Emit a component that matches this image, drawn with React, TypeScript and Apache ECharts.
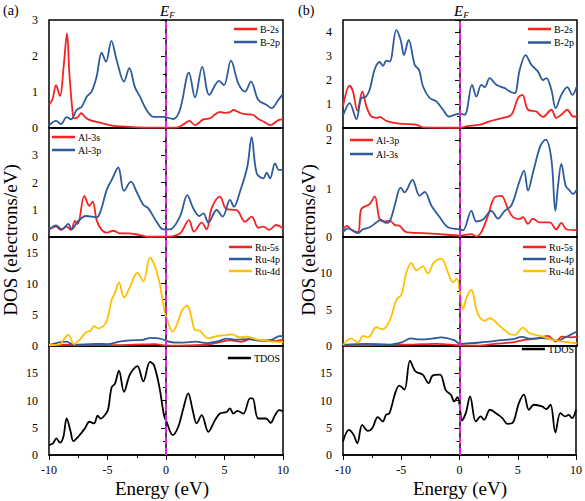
import React, { useEffect, useRef } from "react";
import * as echarts from "echarts";

// ---------- Panel (a) ----------
const aB2sE = [-10,-9.7,-9.4,-9.06,-8.75,-8.46,-8.26,-8.0,-7.85,-7.55,-7.24,-6.9,-6.5,-5.64,-4.5,-3.5,-2.5,-1,0.9,1.5,1.99,2.48,3.19,3.76,4.2,4.61,5.0,5.47,5.75,6.2,6.61,7.0,7.46,7.9,8.32,8.94,9.6,10];
const aB2sY = [0.64,0.8,1.19,0.89,1.7,2.63,1.52,0.5,0.27,0.3,0.41,0.3,0.22,0.15,0.06,0.04,0.02,0.01,0.01,0.1,0.2,0.08,0.24,0.27,0.38,0.45,0.42,0.44,0.5,0.44,0.39,0.38,0.36,0.25,0.18,0.08,0.22,0.24];
const aB2pE = [-10,-9.4,-8.98,-8.49,-8.12,-7.64,-7.21,-6.78,-6.36,-5.93,-5.5,-5.13,-4.67,-4.22,-3.59,-3.14,-2.65,-2.22,-1.66,-1.08,-0.23,0.62,1.19,1.96,2.48,3.1,3.7,4.53,4.95,5.55,6.18,6.75,7.26,7.89,8.6,9.03,9.6,10];
const aB2pY = [0.07,0.2,0.11,0.3,0.24,0.5,0.59,0.87,1.01,1.43,2.09,1.84,2.42,1.89,1.29,1.66,1.13,0.87,0.5,0.31,0.31,0.25,0.5,1.54,0.85,1.7,0.92,1.31,1.19,1.87,1.24,1.01,1.29,0.78,0.64,0.55,0.78,0.94];
const aAl3sE = [-10,-9.4,-8.98,-8.49,-8.12,-7.78,-7.55,-6.98,-6.55,-6.27,-5.93,-5.5,-5.07,-4.5,-3.93,-3.22,-2.22,-1.51,0.05,1.19,1.96,2.39,3.05,3.47,3.9,4.61,5.18,6.04,6.75,7.32,7.89,8.32,8.83,9.4,10];
const aAl3sY = [0.28,0.38,0.26,0.38,0.26,0.59,0.48,1.51,1.14,1.3,0.62,0.26,0.16,0.23,0.13,0.13,0.07,0.01,0.01,0.13,0.62,0.2,0.53,0.28,1.05,1.48,1.02,0.99,0.56,0.75,0.34,0.38,0.26,0.44,0.32];
const aAl3pE = [-10,-9.4,-8.92,-8.35,-8.07,-7.55,-6.84,-5.93,-5.56,-5.07,-4.65,-4.08,-3.59,-3.0,-2.51,-1.94,-1.51,-0.8,-0.23,0.34,1.19,1.82,2.33,2.85,3.19,3.62,4.33,4.84,5.47,5.81,6.32,6.95,7.32,7.75,8.32,8.6,8.89,9.32,9.66,10];
const aAl3pY = [0.26,0.43,0.28,0.48,0.28,0.56,0.77,0.72,0.99,1.73,2.09,2.55,1.69,2.03,1.66,1.18,1.05,0.56,0.28,0.28,0.75,1.54,1.05,0.77,0.87,0.53,0.99,0.75,1.36,1.11,1.66,2.58,3.66,2.34,2.15,2.36,2.15,2.7,2.46,2.46];
const aRu5sE = [-10,-8.5,-7.5,-6,-4,-2,-1,0,1,2,3.5,4.5,5.5,6.5,7.2,8,9,10];
const aRu5sY = [0.05,0.2,0.1,0.15,0.15,0.25,0.3,0.1,0.05,0.1,0.2,0.6,0.9,0.7,1.1,0.85,0.8,1.0];
const aRu4pE = [-10,-8.5,-7.9,-6,-5,-4,-3,-2,-1.3,-0.5,0.5,1.5,2.5,3.5,4.5,5.2,6,7,8,9,9.7,10];
const aRu4pY = [0.15,0.7,0.2,0.35,0.3,0.7,0.9,1.0,1.3,1.2,0.6,0.55,0.7,0.45,0.8,1.2,1.0,1.1,0.9,1.0,1.6,1.6];
const aRu4dE = [-10,-9.06,-8.77,-8.35,-7.87,-7.35,-6.78,-6.47,-6.15,-5.79,-5.13,-4.65,-4.36,-4.02,-3.59,-3.08,-2.45,-1.94,-1.37,-1.03,-0.57,-0.17,0.05,0.57,0.91,1.39,1.82,2.19,2.48,2.9,3.1,3.62,4.33,5.18,5.61,6.32,6.89,7.75,8.6,9.17,10];
const aRu4dY = [0.16,0.27,0.96,1.82,0.32,1.07,2.3,2.4,3.2,2.83,3.74,7.37,8.54,10.2,7.8,9.5,11.75,10.4,14.2,13.24,10.3,6.03,4.43,2.3,3.36,5.77,6.46,4.43,2.56,2.46,2.03,1.23,1.6,1.76,1.87,1.39,1.5,1.07,0.85,0.69,0.64];
const aTdosE = [-10,-9.66,-9.37,-9.06,-8.77,-8.49,-8.15,-7.92,-7.5,-6.93,-6.55,-6.15,-5.84,-5.59,-5.13,-4.93,-4.65,-4.36,-4.02,-3.59,-3.08,-2.45,-1.94,-1.37,-1.03,-0.57,-0.17,0.05,0.57,1.05,1.48,1.9,2.28,2.62,3.05,3.62,4.19,4.61,5.18,5.47,5.75,6.1,6.61,7.18,7.4,7.89,8.55,8.94,9.32,9.68,10];
const aTdosY = [1.83,2.13,3.05,2.26,3.35,6.7,4.27,2.56,3.35,4.88,6.1,5.79,7.2,6.7,7.6,8.54,12.4,13.1,15.5,11.6,14.8,16.3,13.5,17.07,16.5,12.5,7.3,6.1,3.66,5.18,8.54,11.3,8.23,5.79,7.3,4.27,6.4,7.6,7.9,8.54,7.6,8.1,7.6,10.4,10.4,6.7,6.7,5.9,7.3,8.23,8.05];

// ---------- Panel (b) ----------
const bB2sE = [-10,-9.43,-9.15,-8.77,-8.35,-8.0,-7.58,-7.09,-6.87,-6.3,-5.16,-3.73,-3.16,0,0.54,1.68,2.54,3.68,4.39,4.96,5.33,5.81,6.52,7.09,7.81,8.23,8.66,9.17,9.66,10];
const bB2sY = [0.9,1.76,1.52,0.72,1.52,0.9,0.48,0.42,0.46,0.3,0.18,0.14,0.03,0.01,0.07,0.14,0.28,0.42,0.55,1.25,1.38,0.76,0.69,0.46,0.76,0.42,0.55,0.76,0.48,0.48];
const bB2pE = [-10,-9.43,-8.86,-8.43,-8.06,-7.72,-7.29,-6.87,-6.58,-6.3,-6.01,-5.44,-5.07,-4.79,-4.39,-3.87,-3.5,-3.16,-2.59,-2.02,-1.45,-0.94,-0.46,-0.03,0.4,1.03,1.4,1.82,2.11,2.54,3.11,3.82,4.25,4.67,5.1,5.61,6.1,6.67,7.09,7.38,7.81,8.18,8.66,9.17,9.6,10];
const bB2pY = [0.51,1.04,0.37,1.25,1.29,1.59,2.45,2.75,2.59,2.81,2.77,4.08,3.67,3.04,3.67,2.63,2.42,1.73,1.25,1.11,0.76,0.48,0.55,0.6,0.55,1.8,1.31,1.8,1.7,2.08,1.8,1.66,1.52,1.45,2.42,3.04,2.63,2.35,2.0,2.08,1.59,0.83,1.38,1.7,1.38,1.76];
const bAl3pE = [-10,-9.66,-9.29,-8.72,-8.43,-7.72,-7.29,-6.87,-6.44,-6.01,-5.58,-5.16,-4.59,-3.16,-1.74,-0.03,0.97,1.4,1.82,2.39,2.96,3.53,4.1,4.53,5.1,5.38,5.81,6.24,6.81,7.66,8.23,8.66,9.09,10];
const bAl3pY = [0.16,0.23,0.15,0.1,0.58,0.68,0.84,0.37,0.32,0.34,0.25,0.23,0.1,0.08,0.06,0.03,0.06,0.01,0.1,0.44,0.82,0.85,0.58,0.41,0.37,0.41,0.27,0.38,0.3,0.3,0.16,0.29,0.16,0.14];
const bAl3sE = [-10,-9.57,-8.72,-8.29,-7.72,-7.15,-6.78,-6.35,-6.01,-5.58,-5.07,-4.73,-4.07,-3.45,-3.02,-2.45,-1.74,-1.03,-0.03,0.26,0.97,1.4,1.97,2.68,3.25,3.82,4.39,5.1,5.47,5.81,6.24,6.87,7.32,7.81,8.15,8.38,8.66,9.03,9.37,9.66,10];
const bAl3sY = [0.1,0.18,0.08,0.16,0.2,0.3,0.36,0.29,0.32,0.65,1.02,0.92,1.18,0.85,0.93,0.65,0.41,0.2,0.16,0.14,0.54,0.32,0.36,0.54,0.38,0.54,0.65,1.16,1.37,0.96,1.33,1.88,2.01,1.61,0.54,1.06,1.51,1.06,0.96,0.89,0.99];
const bRu5sE = [-10,-8,-6,-4,-2,0,1.5,3,4.5,5.5,6.5,7.5,8.2,8.7,9.5,10];
const bRu5sY = [0.05,0.1,0.15,0.2,0.3,0.1,0.05,0.3,0.5,0.85,1.0,1.4,0.6,1.3,1.2,1.3];
const bRu4pE = [-10,-8,-6,-5,-4.2,-3.5,-2,-1.6,-0.5,0,0.5,1.5,2.5,3.5,4.5,5.3,6,7,8,8.3,9,10];
const bRu4pY = [0.15,0.3,0.2,0.5,1.05,0.9,1.1,1.2,0.8,0.3,0.35,0.45,0.6,0.8,0.95,1.25,1.0,1.1,0.85,0.7,1.2,2.0];
const bRu4dE = [-10,-9.29,-8.72,-8.29,-7.86,-7.15,-6.64,-6.01,-5.44,-5.01,-4.59,-4.16,-3.73,-3.16,-2.74,-2.25,-1.6,-1.03,-0.6,-0.26,0.03,0.26,0.54,0.97,1.4,1.74,2.11,2.54,3.39,4.25,4.67,5.38,5.95,6.81,7.95,8.8,10];
const bRu4dY = [0.14,1.06,0.46,1.38,1.2,2.58,2.3,3.5,6.36,7.05,10.05,11.43,10.41,10.97,9.95,11.43,12.03,10.14,8.76,9.26,6.82,5.07,6.59,7.74,4.98,3.82,3.5,3.82,2.76,1.66,1.52,2.53,1.75,1.43,0.83,0.6,0.37];
const bTdosE = [-10,-9.49,-9.09,-8.77,-8.35,-7.86,-7.49,-7.01,-6.58,-6.3,-6.01,-5.5,-5.16,-4.73,-4.25,-3.79,-3.16,-2.65,-2.31,-1.68,-1.17,-0.74,-0.46,-0.17,0.03,0.2,0.54,0.91,1.4,1.82,2.11,2.62,3.11,3.68,4.1,4.53,5.1,5.53,5.95,6.38,7.09,7.44,7.81,8.23,8.66,9.09,9.37,9.66,10];
const bTdosY = [2.46,4.61,3.69,2.15,5.53,4.43,4.92,6.95,6.15,7.38,7.68,11.5,12.72,11.99,17.33,15.37,14.75,13.21,14.57,14.75,11.86,11.06,9.83,10.63,8.91,6.33,7.68,10.76,6.15,7.07,6.45,8.3,7.68,6.76,5.72,5.84,9.53,11.06,8.3,9.22,8.91,8.42,9.22,4.12,7.68,7.07,7.38,6.76,8.3];

// ---------- axes ----------
const energyTicks = [-10, -5, 0, 5, 10];
const yMaxA = [3, 4, 17.5, 20];
const yIntA = [1, 1, 5, 5];
const yLabelsA = [[0, 1, 2, 3], [0, 1, 2, 3], [0, 5, 10, 15], [0, 5, 10, 15]];
const yMaxB = [4.5, 2.25, 15, 20];
const yIntB = [1, 1, 5, 5];
const yLabelsB = [[0, 1, 2, 3, 4], [0, 1, 2], [0, 5, 10], [0, 5, 10, 15]];

const RED = "#f52222";
const BLUE = "#2d5b9c";
const YEL = "#ffc000";
const BLK = "#000000";
const MAG = "#e81ee8";
const SERIF = "'Liberation Serif', 'Times New Roman', serif";

const zip = (e: number[], y: number[]) => e.map((v, i) => [v, y[i]]);

type S = { name: string; color: string; e: number[]; y: number[] };
const panelsA: S[][] = [
  [{ name: "B-2s", color: RED, e: aB2sE, y: aB2sY }, { name: "B-2p", color: BLUE, e: aB2pE, y: aB2pY }],
  [{ name: "Al-3s", color: RED, e: aAl3sE, y: aAl3sY }, { name: "Al-3p", color: BLUE, e: aAl3pE, y: aAl3pY }],
  [{ name: "Ru-5s", color: RED, e: aRu5sE, y: aRu5sY }, { name: "Ru-4p", color: BLUE, e: aRu4pE, y: aRu4pY }, { name: "Ru-4d", color: YEL, e: aRu4dE, y: aRu4dY }],
  [{ name: "TDOS", color: BLK, e: aTdosE, y: aTdosY }],
];
const panelsB: S[][] = [
  [{ name: "B-2s", color: RED, e: bB2sE, y: bB2sY }, { name: "B-2p", color: BLUE, e: bB2pE, y: bB2pY }],
  [{ name: "Al-3p", color: RED, e: bAl3pE, y: bAl3pY }, { name: "Al-3s", color: BLUE, e: bAl3sE, y: bAl3sY }],
  [{ name: "Ru-5s", color: RED, e: bRu5sE, y: bRu5sY }, { name: "Ru-4p", color: BLUE, e: bRu4pE, y: bRu4pY }, { name: "Ru-4d", color: YEL, e: bRu4dE, y: bRu4dY }],
  [{ name: "TDOS", color: BLK, e: bTdosE, y: bTdosY }],
];

export default function App() {
  const ref = useRef<HTMLDivElement>(null);
  useEffect(() => {
    if (!ref.current) return;
    const chart = echarts.init(ref.current, undefined, { renderer: "svg" });
    const colLeft = [49, 343];
    const tops = [20, 128, 237, 346];
    const heights = [108, 109, 109, 109];
    const grids: any[] = [];
    const xAxes: any[] = [];
    const yAxes: any[] = [];
    const series: any[] = [];
    const legends: any[] = [];
    const legendPos = [
      [{ right: 305, top: 23, gap: 1 }, { left: 52, top: 131, gap: 1 }, { right: 305, top: 241, gap: 0 }, { right: 305, top: 352, gap: 0 }],
      [{ right: 11, top: 23, gap: 1.5 }, { left: 350, top: 134, gap: 2 }, { right: 11, top: 241, gap: 0 }, { right: 11, top: 343, gap: 0 }],
    ];
    [panelsA, panelsB].forEach((panels, c) => {
      const maxes = c === 0 ? yMaxA : yMaxB;
      const ints = c === 0 ? yIntA : yIntB;
      const labs = c === 0 ? yLabelsA : yLabelsB;
      panels.forEach((ps, p) => {
        const gi = grids.length;
        const bottom = p === 3;
        grids.push({
          left: colLeft[c], top: tops[p], width: 234, height: heights[p],
          show: true, borderColor: "#000", borderWidth: 1.5, backgroundColor: "transparent",
        });
        xAxes.push({
          type: "value", gridIndex: gi, min: -10, max: 10, interval: 5,
          axisLine: { show: true, onZero: false, lineStyle: { color: "#000", width: 1.5 } },
          axisTick: { show: bottom, inside: false, length: 5, lineStyle: { color: "#000", width: 1 } },
          minorTick: { show: bottom, splitNumber: 2, length: 3, lineStyle: { color: "#000", width: 1 } },
          splitLine: { show: false },
          axisLabel: {
            show: bottom, color: "#000", fontFamily: SERIF, fontSize: 12, margin: 9,
            formatter: (v: number) => (energyTicks.includes(v) ? String(v) : ""),
          },
        });
        const labels = labs[p];
        yAxes.push({
          type: "value", gridIndex: gi, min: 0, max: maxes[p], interval: ints[p],
          axisLine: { show: true, lineStyle: { color: "#000", width: 1.5 } },
          axisTick: { show: true, inside: false, length: 5, lineStyle: { color: "#000", width: 1 } },
          minorTick: { show: true, splitNumber: 2, length: 3, lineStyle: { color: "#000", width: 1 } },
          splitLine: { show: false },
          axisLabel: {
            color: "#000", fontFamily: SERIF, fontSize: 12, margin: 11,
            showMaxLabel: true, showMinLabel: true,
            formatter: (v: number) => (labels.includes(v) ? String(v) : ""),
          },
        });
        ps.forEach((s, k) => {
          series.push({
            type: "line",
            name: s.name + "#" + c,
            xAxisIndex: gi, yAxisIndex: gi,
            data: zip(s.e, s.y),
            showSymbol: false, symbol: "none",
            smooth: 0.35,
            lineStyle: { color: s.color, width: 1.8 },
            itemStyle: { color: s.color },
            z: 3 + k,
            silent: true,
            markLine: k === 0 ? {
              silent: true, symbol: "none", label: { show: false },
              lineStyle: { color: MAG, type: [7, 4], width: 2 },
              data: [{ xAxis: 0 }],
              z: 10,
            } : undefined,
          });
        });
        const lp: any = legendPos[c][p];
        const leg: any = {
          orient: "vertical", top: lp.top, padding: 0, itemGap: lp.gap,
          itemWidth: 23, itemHeight: 2.5, icon: "rect",
          selectedMode: false,
          data: ps.map((s) => s.name + "#" + c),
          formatter: (n: string) => n.split("#")[0],
          textStyle: { color: "#000", fontFamily: SERIF, fontSize: 10, lineHeight: 12, padding: [0, 0, 0, -2] },
        };
        if (lp.right !== undefined) leg.right = lp.right; else leg.left = lp.left;
        legends.push(leg);
      });
    });

    const graphics: any[] = [
      { type: "text", left: 3, top: 3, style: { text: "(a)", font: `14px ${SERIF}`, fill: "#000" } },
      { type: "text", left: 298, top: 3, style: { text: "(b)", font: `14px ${SERIF}`, fill: "#000" } },
      ...[166, 460].map((x) => ({
        type: "text", x: x - 6, y: 2,
        style: {
          text: "{e|E}{f|F}",
          rich: {
            e: { font: `italic 15px ${SERIF}`, fill: "#000" },
            f: { font: `italic 9px ${SERIF}`, fill: "#000", padding: [8, 0, 0, 0] },
          },
        },
      })),
      ...[10, 308].map((x) => ({
        type: "text", x, y: 240, rotation: Math.PI / 2,
        style: { text: "DOS (electrons/eV)", font: `19px ${SERIF}`, fill: "#000", align: "center", verticalAlign: "middle" },
      })),
      ...[162, 460].map((x) => ({
        type: "text", x, y: 488,
        style: { text: "Energy (eV)", font: `19px ${SERIF}`, fill: "#000", align: "center", verticalAlign: "middle" },
      })),
    ];

    chart.setOption({
      animation: false,
      backgroundColor: "#fff",
      grid: grids,
      xAxis: xAxes,
      yAxis: yAxes,
      legend: legends,
      series,
      graphic: graphics,
    });
    return () => chart.dispose();
  }, []);
  return <div ref={ref} style={{ position: "fixed", left: 0, top: 0, width: 585, height: 501 }} />;
}
